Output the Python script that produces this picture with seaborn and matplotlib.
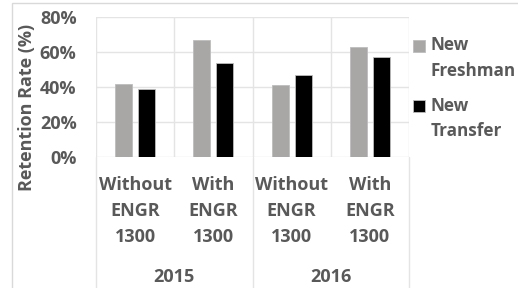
import matplotlib
matplotlib.use("Agg")
import matplotlib.pyplot as plt
import matplotlib.transforms as mtransforms
from matplotlib.patches import Rectangle
from matplotlib.legend_handler import HandlerPatch
from matplotlib.ticker import PercentFormatter
import seaborn as sns
import pandas as pd

years = ["2015", "2015", "2016", "2016"]
groups = ["Without\nENGR\n1300", "With\nENGR\n1300", "Without\nENGR\n1300", "With\nENGR\n1300"]
series = ["New\nFreshman", "New\nTransfer"]
freshman = [42, 67, 41, 63]
transfer = [39, 54, 47, 57]
yticks = [0, 20, 40, 60, 80]

cats = [f"{y}|{g}" for y, g in zip(years, groups)]
df = pd.DataFrame({
    "cat": cats * 2,
    "series": [series[0]] * 4 + [series[1]] * 4,
    "value": freshman + transfer,
})

sns.set_theme(style="white")
plt.rcParams["font.family"] = ["Open Sans", "DejaVu Sans"]
TXT = "#595959"
GRID = "#E4E4E4"
FS = 13

fig = plt.figure(figsize=(5.18, 2.88), dpi=100)
ax = fig.add_axes([96 / 518, 1 - 157 / 288, (409 - 96) / 518, (157 - 17) / 288])

sns.barplot(data=df, x="cat", y="value", hue="series", order=cats,
            hue_order=series, palette=["#A9A5A5", "#000000"],
            width=0.59, gap=0.26, edgecolor="#BDBDBD", linewidth=0.6,
            ax=ax, zorder=3)

ax.set_ylim(0, 80)
ax.set_xlim(-0.5, len(cats) - 0.5)
ax.set_yticks(yticks)
ax.yaxis.set_major_formatter(PercentFormatter(decimals=0))
for s in ax.spines.values():
    s.set_visible(False)
ax.grid(False)
for v in yticks:
    ax.axhline(v, color=GRID, lw=1.0, zorder=1)

# category boundaries
for i in range(len(cats) + 1):
    ax.axvline(i - 0.5, color=GRID, lw=1.0, zorder=1)

ax.tick_params(axis="both", length=0, labelsize=FS, labelcolor=TXT)
ax.tick_params(axis="y", pad=14)
for t in ax.get_yticklabels():
    t.set_fontweight("bold")
ax.set_xticks(range(len(cats)))
ax.set_xticklabels(groups, fontweight="bold", linespacing=1.55, va="top")
ax.tick_params(axis="x", pad=14)
ax.set_xlabel("")
ax.set_ylabel("Retention Rate (%)", fontsize=FS, fontweight="bold", color=TXT)
ax.yaxis.set_label_coords(-0.193, 0.357)

# year group labels and separators below axis
trans = mtransforms.blended_transform_factory(ax.transData, ax.transAxes)
uniq = []
for y in years:
    if y not in uniq:
        uniq.append(y)
for y in uniq:
    idx = [i for i, yy in enumerate(years) if yy == y]
    ax.text((idx[0] + idx[-1]) / 2, -0.895, y, transform=trans, ha="center", va="baseline",
            fontsize=FS, fontweight="bold", color=TXT)
bounds = [-0.5] + [i + 0.5 for i in range(len(years)) if i == len(years) - 1 or years[i] != years[i + 1]]
for b in bounds:
    ax.plot([b, b], [0, -1.05], transform=trans, color=GRID, lw=1.0, clip_on=False)

LEG_FS = 12.3
DY = 9.4


def top_square(legend, orig_handle, xdescent, ydescent, width, height, fontsize):
    return Rectangle((-xdescent, -ydescent + DY), width, height)


handles, labels = ax.get_legend_handles_labels()
leg = ax.legend(handles, labels, loc="upper left", bbox_to_anchor=(1.0, 0.892), frameon=False,
                handlelength=0.7, handleheight=0.7, handletextpad=0.3,
                labelspacing=1.0, fontsize=LEG_FS, borderaxespad=0.0, borderpad=0.25,
                handler_map={h: HandlerPatch(patch_func=top_square) for h in handles})
for t in leg.get_texts():
    t.set_color(TXT)
    t.set_fontweight("bold")
    t.set_linespacing(1.52)

fig.patches.append(Rectangle((12 / 518, -0.2), 1.2, 1.2 - 3 / 288, transform=fig.transFigure,
                             fill=False, edgecolor="#D9D9D9", lw=1.0, zorder=0))

fig.savefig("out.png", dpi=100)
